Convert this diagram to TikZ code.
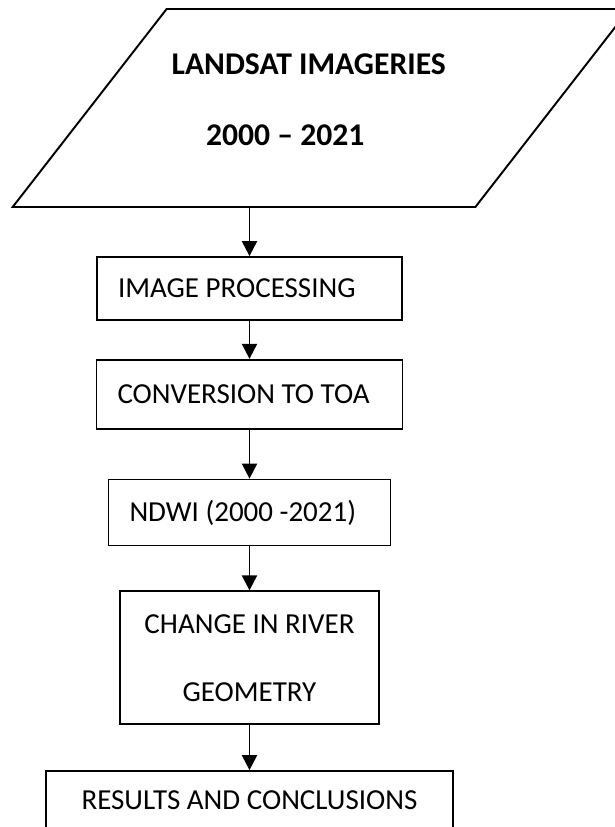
\documentclass[tikz,border=0pt]{standalone}
\usepackage{fontspec}
\setmainfont{Carlito}
\usepackage{tikz}
\usetikzlibrary{shapes.geometric,arrows.meta,positioning}

\begin{document}
\begin{tikzpicture}[font=\fontsize{16.5pt}{38.7pt}\selectfont,node distance=0.9cm]
\tikzset{stage/.style={draw,line width=1pt,minimum width=6.1cm,minimum height=1.26cm,align=center,inner sep=2pt},
  padded/.style={align=flush left,inner xsep=0.42cm,text width=#1},
  para/.style={draw,line width=1.1pt,trapezium,trapezium left angle=63.5,trapezium right angle=116.5,trapezium stretches=true,minimum width=12.34cm,minimum height=3.96cm,inner sep=3pt},
  heading/.style={font=\fontsize{18pt}{22pt}\selectfont\bfseries},
  arr/.style={-{Triangle[width=0.3cm,length=0.3cm]},line width=1.1pt}}
\useasboundingbox (0,0) rectangle (12.3,-16.54);
\node[para] (landsat) at (6.42,-2.16) {};
\node[heading] (lsat) at ([xshift=-0.245cm,yshift=0.88cm]landsat.center) {LANDSAT IMAGERIES};
\node[heading] (years) at ([xshift=-0.715cm,yshift=-0.54cm]landsat.center) {2000 -- 2021};
\node[stage,padded=5.26cm] (proc) at (4.99,-5.77) {IMAGE PROCESSING};
\node[stage,padded=5.28cm,below=0.76cm of proc,minimum height=1.38cm] (toa) {CONVERSION TO TOA};
\node[stage,padded=4.8cm,below=0.98cm of toa,minimum width=5.64cm,minimum height=1.32cm] (ndwi) {NDWI (2000 -2021)};
\node[stage,below=0.88cm of ndwi,minimum width=5.18cm,minimum height=2.66cm] (chg) {CHANGE IN RIVER\\GEOMETRY};
\node[stage,below=0.9cm of chg,minimum width=8.14cm,text height=0.7cm,text depth=1.2cm] (res) {RESULTS AND CONCLUSIONS};
\draw[arr] (landsat.south -| proc.north) -- (proc.north);
\foreach \a/\b in {proc/toa,toa/ndwi,ndwi/chg,chg/res} \draw[arr] (\a)--(\b);
\end{tikzpicture}
\end{document}
